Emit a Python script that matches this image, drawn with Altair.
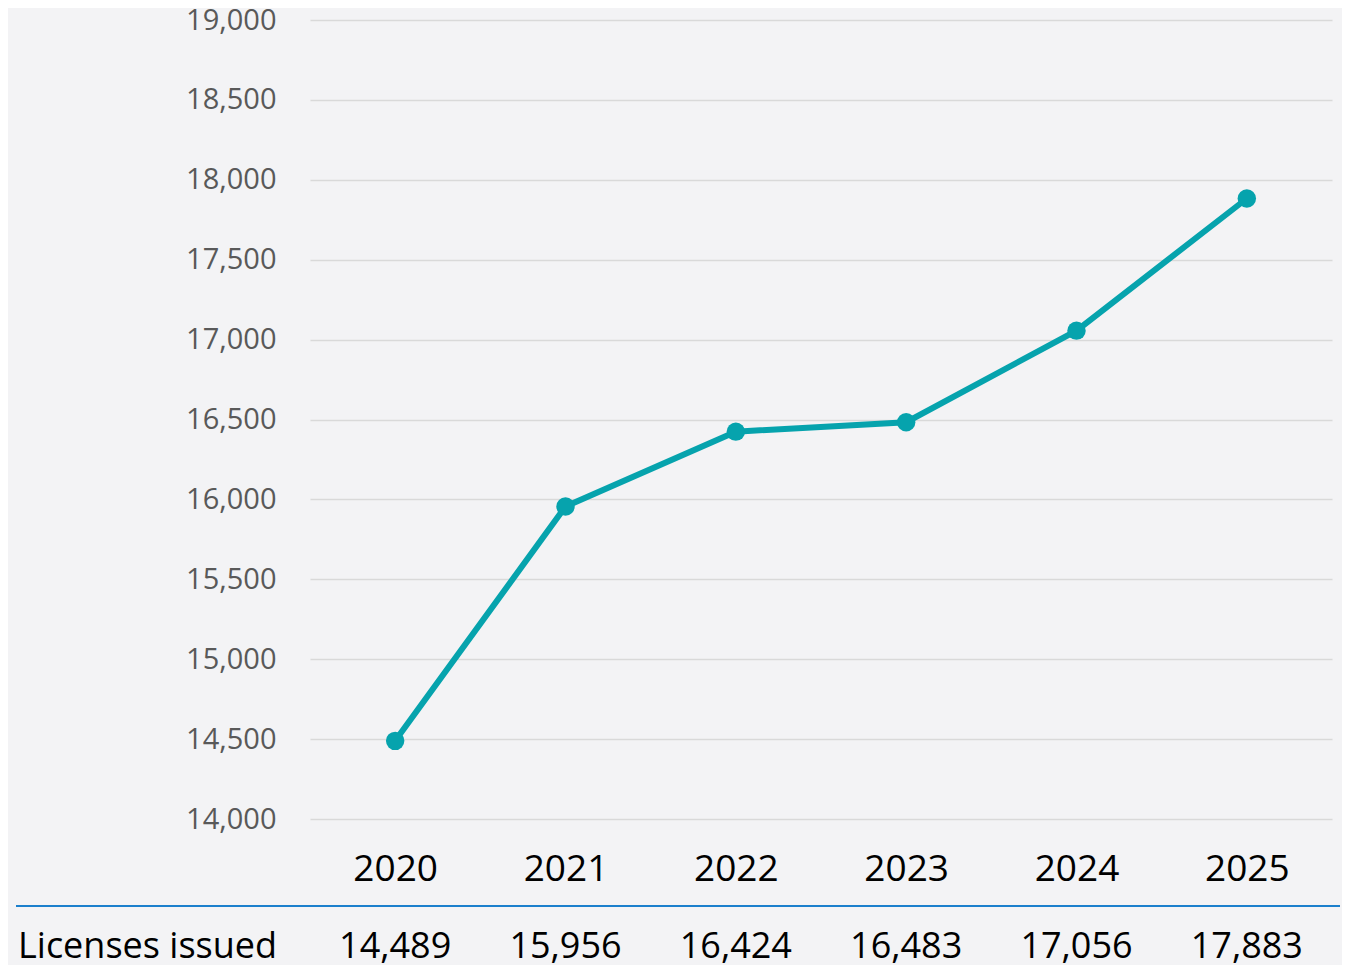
import altair as alt
import pandas as pd

years = ["2020", "2021", "2022", "2023", "2024", "2025"]
licenses = [14489, 15956, 16424, 16483, 17056, 17883]
row_label = "Licenses issued"
y_ticks = [14000, 14500, 15000, 15500, 16000, 16500, 17000, 17500, 18000, 18500, 19000]

df = pd.DataFrame({"year": years, "licenses": licenses})

FONT = "Open Sans"
TEAL = "#06a3ad"
BG = "#f3f3f5"

W, H = 1022, 799

x_enc = alt.X(
    "year:O",
    sort=years,
    scale=alt.Scale(type="point", padding=0.5),
    axis=alt.Axis(
        title=None,
        labelAngle=0,
        labelFontSize=37,
        labelColor="#000000",
        labelFont=FONT,
        labelPadding=32,
        ticks=False,
        domain=False,
        grid=False,
    ),
)

y_enc = alt.Y(
    "licenses:Q",
    scale=alt.Scale(domain=[14000, 19000], nice=False, zero=False),
    axis=alt.Axis(
        title=None,
        values=y_ticks,
        format=",.0f",
        labelFontSize=29,
        labelColor="#595959",
        labelFont=FONT,
        labelPadding=34,
        ticks=False,
        domain=False,
        grid=True,
        gridColor="#d9d9d9",
        gridWidth=1.5,
    ),
)

base = alt.Chart(df)

line = base.mark_line(color=TEAL, strokeWidth=6).encode(x=x_enc, y=y_enc)
points = base.mark_circle(color=TEAL, size=340, opacity=1).encode(x=x_enc, y=y_enc)

rule = base.mark_rule(color="#1b7fcc", strokeWidth=2).encode(
    x=alt.value(-294), x2=alt.value(1030), y=alt.value(886)
)

values_text = base.mark_text(
    fontSize=36, font=FONT, color="#000000", baseline="alphabetic", align="center"
).encode(
    x=alt.X("year:O", sort=years),
    y=alt.value(938),
    text=alt.Text("licenses:Q", format=",.0f"),
)

label_df = pd.DataFrame({"label": [row_label]})
label_text = alt.Chart(label_df).mark_text(
    fontSize=36, font=FONT, color="#000000", baseline="alphabetic", align="left"
).encode(
    x=alt.value(-292),
    y=alt.value(938),
    text="label:N",
)

chart = (
    alt.layer(line, points, rule, values_text, label_text)
    .properties(
        width=W,
        height=H,
        padding={"left": 302, "top": 12, "right": 10, "bottom": 146},
        autosize=alt.AutoSizeParams(type="none"),
        background=BG,
    )
    .configure_view(stroke=None)
)

chart.save("out.html", embed_options={"renderer": "svg", "actions": False})
